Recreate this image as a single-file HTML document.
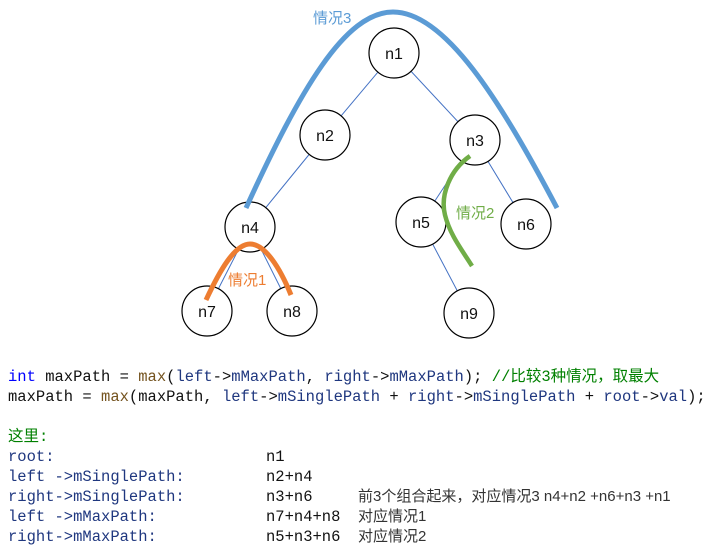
<!DOCTYPE html>
<html><head><meta charset="utf-8"><style>
html,body{margin:0;padding:0;background:#fff;}
svg{display:block}
.n{font-family:"Liberation Sans","Noto Sans CJK SC",sans-serif;font-size:16px;fill:#111;text-anchor:middle}
.c{font-family:"Liberation Mono","Noto Sans CJK SC",monospace;font-size:15.5px}
.z{font-family:"Liberation Sans","Noto Sans CJK SC",sans-serif;font-size:15px;fill:#333}
</style></head><body>
<svg width="721" height="550" viewBox="0 0 721 550" xmlns="http://www.w3.org/2000/svg">
<g stroke="#4472c4" stroke-width="1">
<line x1="394" y1="53" x2="325" y2="135"/>
<line x1="394" y1="53" x2="475" y2="140"/>
<line x1="325" y1="135" x2="250" y2="227"/>
<line x1="475" y1="140" x2="421" y2="222"/>
<line x1="475" y1="140" x2="526" y2="224"/>
<line x1="250" y1="227" x2="207" y2="311"/>
<line x1="250" y1="227" x2="292" y2="311"/>
<line x1="421" y1="222" x2="469" y2="313"/>
</g>
<g fill="#fff" stroke="#000" stroke-width="1.2">
<circle cx="394" cy="53" r="25"/><circle cx="325" cy="135" r="25"/><circle cx="475" cy="140" r="25"/>
<circle cx="250" cy="227" r="25"/><circle cx="421" cy="222" r="25"/><circle cx="526" cy="224" r="25"/>
<circle cx="207" cy="311" r="25"/><circle cx="292" cy="311" r="25"/><circle cx="469" cy="313" r="25"/>
</g>
<g class="n">
<text x="394" y="59">n1</text><text x="325" y="141">n2</text><text x="475" y="146">n3</text>
<text x="250" y="233">n4</text><text x="421" y="228">n5</text><text x="526" y="230">n6</text>
<text x="207" y="317">n7</text><text x="292" y="317">n8</text><text x="469" y="319">n9</text>
</g>
<path d="M246,208 C300,90 345,12 393,12 C445,12 500,100 557,208" fill="none" stroke="#5b9bd5" stroke-width="5"/>
<path d="M206,300 C220,270 235,244 250,244 C265,244 280,268 291,295" fill="none" stroke="#ed7d31" stroke-width="5"/>
<path d="M470,156 C450,170 440,195 445,215 C450,235 462,250 472,266" fill="none" stroke="#70ad47" stroke-width="4.5"/>
<text x="313" y="23" style="font-family:'Liberation Sans','Noto Sans CJK SC',sans-serif;font-size:15px;fill:#5b9bd5">情况3</text>
<text x="228" y="285" style="font-family:'Liberation Sans','Noto Sans CJK SC',sans-serif;font-size:15px;fill:#ed7d31">情况1</text>
<text x="456" y="218" style="font-family:'Liberation Sans','Noto Sans CJK SC',sans-serif;font-size:15px;fill:#70ad47">情况2</text>
<g class="c">
<text x="8" y="381"><tspan fill="#0000ff">int</tspan><tspan fill="#111"> maxPath = </tspan><tspan fill="#74531f">max</tspan><tspan fill="#111">(</tspan><tspan fill="#1f377f">left</tspan><tspan fill="#111">-&gt;</tspan><tspan fill="#1f377f">mMaxPath</tspan><tspan fill="#111">, </tspan><tspan fill="#1f377f">right</tspan><tspan fill="#111">-&gt;</tspan><tspan fill="#1f377f">mMaxPath</tspan><tspan fill="#111">); </tspan><tspan fill="#008000">//比较3种情况，取最大</tspan></text>
<text x="8" y="401"><tspan fill="#111">maxPath = </tspan><tspan fill="#74531f">max</tspan><tspan fill="#111">(maxPath, </tspan><tspan fill="#1f377f">left</tspan><tspan fill="#111">-&gt;</tspan><tspan fill="#1f377f">mSinglePath</tspan><tspan fill="#111"> + </tspan><tspan fill="#1f377f">right</tspan><tspan fill="#111">-&gt;</tspan><tspan fill="#1f377f">mSinglePath</tspan><tspan fill="#111"> + </tspan><tspan fill="#1f377f">root</tspan><tspan fill="#111">-&gt;</tspan><tspan fill="#1f377f">val</tspan><tspan fill="#111">);</tspan></text>
<text x="8" y="441" fill="#008000">这里:</text>
<g fill="#1f377f">
<text x="8" y="461">root:</text>
<text x="8" y="481">left -&gt;mSinglePath:</text>
<text x="8" y="501">right-&gt;mSinglePath:</text>
<text x="8" y="521">left -&gt;mMaxPath:</text>
<text x="8" y="541">right-&gt;mMaxPath:</text>
</g>
<g fill="#111">
<text x="266" y="461">n1</text>
<text x="266" y="481">n2+n4</text>
<text x="266" y="501">n3+n6</text>
<text x="266" y="521">n7+n4+n8</text>
<text x="266" y="541">n5+n3+n6</text>
</g>
</g>
<text class="z" x="358" y="501">前3个组合起来，对应情况3  n4+n2  +n6+n3  +n1</text>
<text class="z" x="358" y="521">对应情况1</text>
<text class="z" x="358" y="541">对应情况2</text>
</svg>
</body></html>
